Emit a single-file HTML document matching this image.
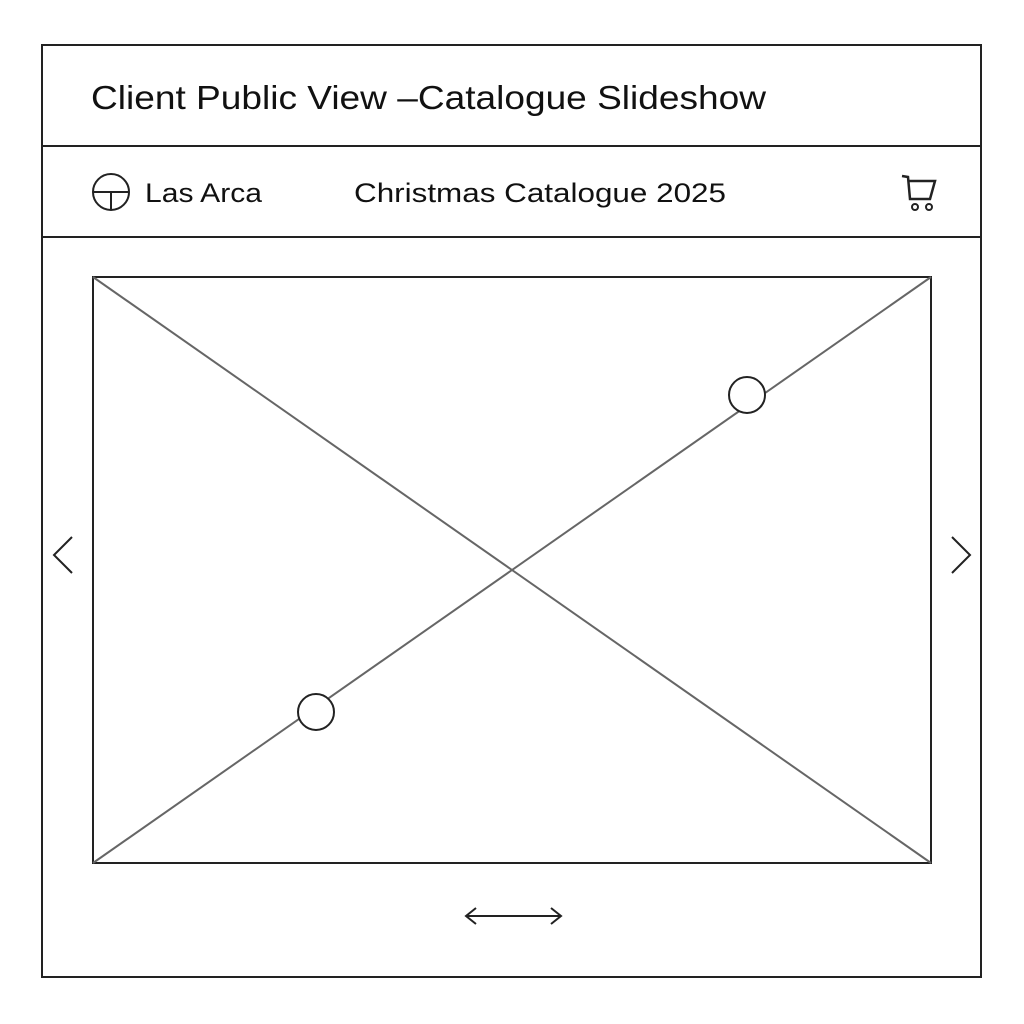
<!DOCTYPE html>
<html><head><meta charset="utf-8"><style>html,body{margin:0;padding:0;background:#fff}svg{display:block}</style></head>
<body>
<svg width="1024" height="1024" viewBox="0 0 1024 1024" xmlns="http://www.w3.org/2000/svg">
<rect width="1024" height="1024" fill="#fff"/>
<g fill="none" stroke="#222" stroke-width="2">
<rect x="42" y="45" width="939" height="932"/>
<line x1="42" y1="146" x2="981" y2="146"/>
<line x1="42" y1="237" x2="981" y2="237"/>
<rect x="93" y="277" width="838" height="586"/>
</g>
<g stroke="#666" stroke-width="2">
<line x1="93" y1="277" x2="931" y2="863"/>
<line x1="931" y1="277" x2="93" y2="863"/>
</g>
<g fill="#fff" stroke="#222" stroke-width="2">
<circle cx="747" cy="395" r="18"/>
<circle cx="316" cy="712" r="18"/>
</g>
<g fill="none" stroke="#222" stroke-width="2">
<polyline points="72,537 54,555 72,573"/>
<polyline points="952,537 970,555 952,573"/>
<line x1="466" y1="916" x2="561" y2="916"/>
<polyline points="476,908 466,916 476,924"/>
<polyline points="551,908 561,916 551,924"/>
<circle cx="111" cy="192" r="18"/>
<line x1="93" y1="192" x2="129" y2="192"/>
<line x1="111" y1="192" x2="111" y2="210"/>
<polyline stroke-width="2.5" points="902,176 908,177 910,199 930,199 935,181 908,181"/>
<circle cx="915" cy="207" r="3" stroke-width="2"/>
<circle cx="929" cy="207" r="3" stroke-width="2"/>
</g>
<g font-family="Liberation Sans, sans-serif" fill="#111">
<text x="91" y="109" font-size="33" textLength="675" lengthAdjust="spacingAndGlyphs">Client Public View –Catalogue Slideshow</text>
<text x="145" y="202" font-size="27" textLength="117" lengthAdjust="spacingAndGlyphs">Las Arca</text>
<text x="354" y="202" font-size="27" textLength="372" lengthAdjust="spacingAndGlyphs">Christmas Catalogue 2025</text>
</g>
</svg>
</body></html>
